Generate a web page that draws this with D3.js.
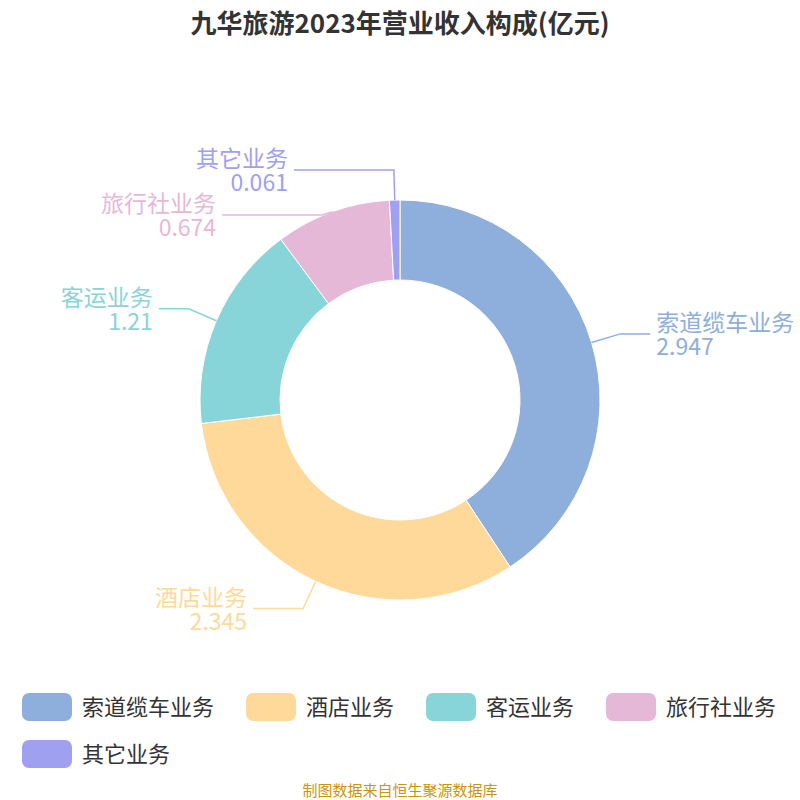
<!DOCTYPE html>
<html><head><meta charset="utf-8">
<script src="https://cdn.jsdelivr.net/npm/d3@7/dist/d3.min.js"></script>
<style>body{margin:0;background:#fff;font-family:"Noto Sans CJK SC","Noto Sans",sans-serif}</style>
</head><body><div id="chart"></div>
<script>
var categories = ["索道缆车业务", "酒店业务", "客运业务", "旅行社业务", "其它业务"];
var values = [2.947, 2.345, 1.21, 0.674, 0.061];
var valueLabels = ["2.947", "2.345", "1.21", "0.674", "0.061"];
var colors = ["#8eaedb", "#ffd99a", "#87d5d8", "#e6b8d8", "#a0a0f0"];

var width = 800, height = 800;
var cx = 400, cy = 400, rOut = 200, rIn = 120;
var svg = d3.select("#chart").append("svg").attr("width", width).attr("height", height);

svg.append("text").attr("x", 400).attr("y", 33).attr("text-anchor", "middle")
	.attr("font-size", 26).attr("font-weight", "bold").attr("fill", "#333")
	.text("九华旅游2023年营业收入构成(亿元)");

var data = categories.map(function(c, i) { return {name: c, value: values[i], label: valueLabels[i], color: colors[i]}; });
var total = d3.sum(values);
var pie = d3.pie().sort(null).value(function(d) { return d.value; });
var arcs = pie(data);
var arc = d3.arc().innerRadius(rIn).outerRadius(rOut);

var g = svg.append("g").attr("transform", "translate(" + cx + "," + cy + ")");
g.selectAll("path").data(arcs).enter().append("path")
	.attr("d", arc).attr("fill", function(d) { return d.data.color; })
	.attr("stroke", "#fff").attr("stroke-width", 1);

// label positions
var labels = arcs.map(function(a) {
	var m = (a.startAngle + a.endAngle) / 2;
	return {a: a, m: m, right: Math.sin(m) >= 0,
		p0: [Math.sin(m) * rOut, -Math.cos(m) * rOut],
		p1: [Math.sin(m) * 230, -Math.cos(m) * 230]};
});
// resolve overlaps on left side, top-down
var left = labels.filter(function(l) { return !l.right; }).sort(function(a, b) { return a.p1[1] - b.p1[1]; });
for (var i = 1; i < left.length; i++) {
	if (left[i].p1[1] - left[i - 1].p1[1] < 45) left[i].p1[1] = left[i - 1].p1[1] + 45;
}
labels.forEach(function(l) {
	var d = l.right ? 1 : -1;
	var frac = l.a.data.value / total;
	var len = frac < 0.1 ? 100 : (Math.abs(l.p1[0]) > 190 ? 30 : 50);
	var p2 = [l.p1[0] + d * len, l.p1[1]];
	g.append("polyline").attr("points", [l.p0, l.p1, p2].map(function(p) { return p.join(","); }).join(" "))
		.attr("fill", "none").attr("stroke", l.a.data.color).attr("stroke-width", 1.5);
	var tx = p2[0] + d * 6, anchor = l.right ? "start" : "end";
	g.append("text").attr("x", tx).attr("y", p2[1] - 3).attr("text-anchor", anchor)
		.attr("fill", l.a.data.color).attr("font-size", 23).text(l.a.data.name);
	g.append("text").attr("x", tx).attr("y", p2[1] + 21).attr("text-anchor", anchor)
		.attr("fill", l.a.data.color).attr("font-size", 23).text(l.a.data.label);
});

// legend
var lx = 22, ly = 707;
data.forEach(function(d) {
	var item = svg.append("g");
	var tx = item.append("text").attr("font-size", 22).attr("fill", "#333").text(d.name);
	var w = tx.node().getComputedTextLength();
	if (lx + 60 + w > 790) { lx = 22; ly += 47; }
	item.append("rect").attr("x", lx).attr("y", ly - 14).attr("width", 50).attr("height", 28)
		.attr("rx", 7).attr("fill", d.color);
	tx.attr("x", lx + 60).attr("y", ly + 8);
	lx += 60 + w + 32;
});

svg.append("text").attr("x", 400).attr("y", 796).attr("text-anchor", "middle")
	.attr("font-size", 15).attr("fill", "#c8960a").text("制图数据来自恒生聚源数据库");
</script></body></html>
